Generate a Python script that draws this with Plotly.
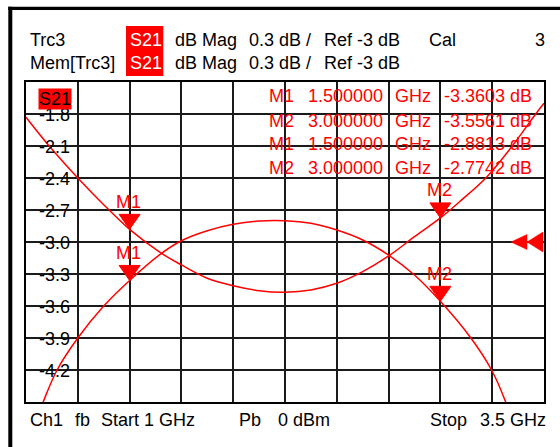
import plotly.graph_objects as go

# ---------------- data ----------------
TRC3_FREQ_GHZ = [1.0, 1.083, 1.15, 1.25, 1.375, 1.5, 1.654, 1.75, 1.875, 2.0, 2.125,
                 2.25, 2.375, 2.5, 2.625, 2.75, 2.875, 3.0, 3.147, 3.247, 3.315, 3.4]
TRC3_DB = [-4.95, -4.5, -4.2, -3.9, -3.6, -3.3603, -3.106, -2.988, -2.894, -2.834, -2.803,
           -2.80, -2.825, -2.888, -2.981, -3.122, -3.309, -3.5561, -3.9, -4.2, -4.5, -5.0]

MEM_FREQ_GHZ = [1.0, 1.112, 1.25, 1.375, 1.5, 1.654, 1.75, 1.875, 2.0, 2.125, 2.25,
                2.375, 2.5, 2.625, 2.75, 2.875, 3.0, 3.1, 3.219, 3.347, 3.46, 3.5]
MEM_DB = [-1.83, -2.1, -2.4, -2.65, -2.8813, -3.106, -3.215, -3.34, -3.41, -3.456, -3.47,
          -3.449, -3.387, -3.278, -3.131, -2.95, -2.7742, -2.61, -2.4, -2.1, -1.8, -1.70]

MARKER_LABELS = ["M1", "M2"]
MARKER_FREQ_GHZ = [1.5, 3.0]
TRC3_MARKER_DB = [-3.3603, -3.5561]
MEM_MARKER_DB = [-2.8813, -2.7742]

Y_TICKS = [-1.8, -2.1, -2.4, -2.7, -3.0, -3.3, -3.6, -3.9, -4.2]
REF_LEVEL_DB = -3.0
X_START, X_STOP, X_STEP = 1.0, 3.5, 0.25
Y_BOTTOM, Y_TOP, Y_STEP = -4.5, -1.5, 0.3

HEADER_ROW1 = ["Trc3", "S21", "dB Mag", "0.3 dB /", "Ref -3 dB", "Cal", "3"]
HEADER_ROW2 = ["Mem[Trc3]", "S21", "dB Mag", "0.3 dB /", "Ref -3 dB"]
FOOTER = ["Ch1", "fb", "Start", "1 GHz", "Pb", "0 dBm", "Stop", "3.5 GHz"]

# ---------------- layout geometry ----------------
W, H = 560, 447
ML, MR, MT, MB = 26, 16, 82, 45
PW, PH = W - ML - MR, H - MT - MB
FONT = "Liberation Sans, Arial, sans-serif"
RED = "#ff0000"


def px(X):
    return (X - ML) / PW


def py(Y):
    return (H - MB - Y) / PH


fig = go.Figure()
fig.add_trace(go.Scatter(x=TRC3_FREQ_GHZ, y=TRC3_DB, mode="lines",
                         line=dict(color=RED, width=1.5, shape="spline"),
                         hoverinfo="skip", showlegend=False))
fig.add_trace(go.Scatter(x=MEM_FREQ_GHZ, y=MEM_DB, mode="lines",
                         line=dict(color=RED, width=1.5, shape="spline"),
                         hoverinfo="skip", showlegend=False))

shapes = []
annotations = []


def text(x_px, y_px, s, color="black", xanchor="left", **kw):
    annotations.append(dict(x=px(x_px), y=py(y_px), xref="paper", yref="paper",
                            text=s, showarrow=False, xanchor=xanchor, yanchor="middle",
                            font=dict(family=FONT, size=18, color=color), **kw))


# outer black frame (screen border)
shapes.append(dict(type="rect", xref="paper", yref="paper", x0=px(8.3), x1=px(12.3),
                   y0=py(6.7), y1=py(460), fillcolor="black", line_width=0, layer="above"))
shapes.append(dict(type="rect", xref="paper", yref="paper", x0=px(8.3), x1=px(570),
                   y0=py(6.7), y1=py(10), fillcolor="black", line_width=0, layer="above"))

# header
shapes.append(dict(type="rect", xref="paper", yref="paper", x0=px(126), x1=px(163.3),
                   y0=py(26), y1=py(76), fillcolor=RED, line_width=0, layer="above"))
row1_x = [27.7, 128, 173.3, 246.7, 321.7, 426.7, 533]
row2_x = [27.7, 128, 173.3, 246.7, 321.7]
for s, x in zip(HEADER_ROW1, row1_x):
    text(x, 39.5, s, color="white" if s == "S21" else "black")
for s, x in zip(HEADER_ROW2, row2_x):
    text(x, 63, s, color="white" if s == "S21" else "black")

# footer
foot_x = [27.7, 73.3, 99, 142, 236.7, 276, 428.3, 478.3]
for s, x in zip(FOOTER, foot_x):
    text(x, 419.5, s)

# y tick labels inside the grid, with gridline masked behind them
for v in Y_TICKS:
    shapes.append(dict(type="rect", xref="paper", yref="y", ysizemode="pixel", yanchor=v,
                       x0=px(30), x1=px(72), y0=-3, y1=3, fillcolor="white",
                       line_width=0, layer="between"))
    annotations.append(dict(x=px(72), y=v, xref="paper", yref="y", text=f"{v:.1f}",
                            showarrow=False, xanchor="right", yanchor="middle", yshift=-0.5,
                            font=dict(family=FONT, size=18, color="black")))

# S21 trace label inside the diagram
annotations.append(dict(x=px(54.7), y=py(99), xref="paper", yref="paper", text="S21",
                        showarrow=False, xanchor="center", yanchor="middle",
                        bgcolor=RED, borderpad=0,
                        font=dict(family=FONT, size=18, color="black")))

# marker table
table_y = [96.3, 120.8, 143.7, 167.8]
rows = [(lab, f, v) for lab, f, v in zip(MARKER_LABELS, MARKER_FREQ_GHZ, TRC3_MARKER_DB)] + \
       [(lab, f, v) for lab, f, v in zip(MARKER_LABELS, MARKER_FREQ_GHZ, MEM_MARKER_DB)]
for (lab, f, v), yy in zip(rows, table_y):
    text(267.3, yy, lab, color=RED)
    text(385, yy, f"{f:.6f}", color=RED, xanchor="right")
    text(393, yy, "GHz", color=RED)
    text(441.7, yy, f"{v:.4f} dB", color=RED)

# marker triangles + labels
for lab, f, v1, v2 in zip(MARKER_LABELS, MARKER_FREQ_GHZ, TRC3_MARKER_DB, MEM_MARKER_DB):
    for v in (v1, v2):
        shapes.append(dict(type="path", xref="x", yref="y", xsizemode="pixel",
                           ysizemode="pixel", xanchor=f, yanchor=v,
                           path="M -10.5,15 L 10.5,15 L 0,0 Z", fillcolor=RED,
                           line=dict(color=RED, width=1), layer="above"))
        annotations.append(dict(x=f, y=v, xref="x", yref="y", text=lab, showarrow=False,
                                xanchor="center", yanchor="middle", yshift=27.5, xshift=-1,
                                font=dict(family=FONT, size=18, color=RED)))

# reference level arrows at the right edge
shapes.append(dict(type="path", xref="paper", yref="y", xsizemode="pixel", ysizemode="pixel",
                   xanchor=1, yanchor=REF_LEVEL_DB, path="M -33,0 L -17,7.5 L -17,-7.5 Z",
                   fillcolor=RED, line=dict(color=RED, width=0.5), layer="above"))
shapes.append(dict(type="path", xref="paper", yref="y", xsizemode="pixel", ysizemode="pixel",
                   xanchor=1, yanchor=REF_LEVEL_DB, path="M -17,0 L -1,10 L -1,-10 Z",
                   fillcolor=RED, line=dict(color=RED, width=0.5), layer="above"))

axis_common = dict(showgrid=True, gridcolor="#1a1a1a", gridwidth=1.5, zeroline=False,
                   showline=True, linecolor="black", linewidth=2, mirror=True,
                   showticklabels=False, ticks="", fixedrange=True)

fig.update_layout(
    width=W, height=H,
    margin=dict(l=ML, r=MR, t=MT, b=MB, pad=0),
    paper_bgcolor="white", plot_bgcolor="white",
    xaxis=dict(range=[X_START, X_STOP], tick0=X_START, dtick=X_STEP, **axis_common),
    yaxis=dict(range=[Y_BOTTOM, Y_TOP], tick0=Y_TOP, dtick=Y_STEP, **axis_common),
    shapes=shapes, annotations=annotations, showlegend=False,
)

fig.write_html("out.html", config={"displayModeBar": False},
               post_script="document.body.style.margin='0';document.body.style.overflow='hidden';")
